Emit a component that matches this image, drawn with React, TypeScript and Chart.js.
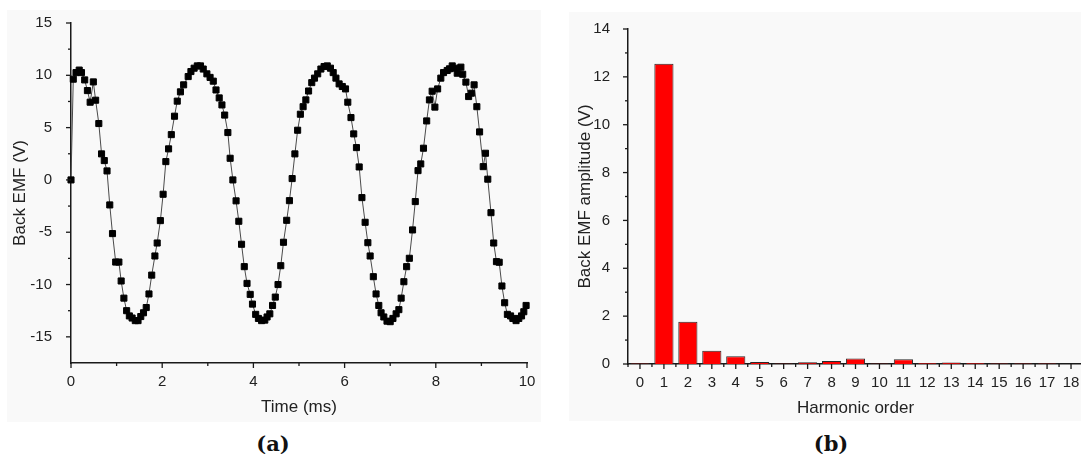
import React, { useEffect, useRef } from 'react';
import { Chart, registerables } from 'chart.js';

Chart.register(...registerables);

// ---------- Data: panel (a) Back EMF waveform ----------
const timeMs = [
  0, 0.05, 0.11, 0.18, 0.23, 0.30, 0.36, 0.42, 0.49, 0.54,
  0.61, 0.67, 0.73, 0.79, 0.85, 0.91, 0.98, 1.05, 1.10, 1.16,
  1.22, 1.28, 1.34, 1.41, 1.47, 1.53, 1.59, 1.65, 1.71, 1.77,
  1.84, 1.89, 1.96, 2.02, 2.08, 2.14, 2.20, 2.27, 2.33, 2.40,
  2.47, 2.57, 2.63, 2.70, 2.77, 2.84, 2.90, 2.98, 3.05, 3.12,
  3.18, 3.25, 3.31, 3.37, 3.44, 3.49, 3.55, 3.62, 3.68, 3.74,
  3.80, 3.86, 3.93, 3.98, 4.05, 4.11, 4.18, 4.25, 4.30, 4.36,
  4.42, 4.48, 4.54, 4.60, 4.66, 4.73, 4.79, 4.85, 4.91, 4.97,
  5.03, 5.09, 5.15, 5.21, 5.28, 5.34, 5.41, 5.48, 5.55, 5.62,
  5.69, 5.75, 5.81, 5.88, 5.95, 6.02, 6.07, 6.14, 6.20, 6.26,
  6.32, 6.38, 6.45, 6.51, 6.56, 6.63, 6.69, 6.75, 6.80, 6.86,
  6.93, 7.00, 7.06, 7.13, 7.19, 7.24, 7.30, 7.36, 7.42, 7.49,
  7.55, 7.61, 7.67, 7.73, 7.80, 7.86, 7.92, 7.98, 8.04, 8.11,
  8.17, 8.25, 8.30, 8.36, 8.41, 8.47, 8.55, 8.59, 8.66, 8.72,
  8.78, 8.84, 8.90, 8.96, 9.04, 9.09, 9.14, 9.21, 9.27, 9.33,
  9.39, 9.45, 9.51, 9.57, 9.64, 9.69, 9.76, 9.82, 9.88, 9.93,
  9.98,
];

const backEmfV = [
  0, 9.63, 10.26, 10.5, 10.26, 9.56, 8.54, 7.43, 9.37, 7.62,
  5.39, 2.49, 1.85, 0.86, -2.39, -5.13, -7.85, -7.85, -9.66, -11.3,
  -12.5, -13.0, -13.2, -13.45, -13.45, -13.06, -12.7, -12.2, -10.9, -9.1,
  -7.27, -6.03, -3.89, -1.37, 1.75, 2.97, 4.33, 6.09, 7.53, 8.42,
  9.09, 9.88, 10.36, 10.68, 10.9, 10.9, 10.6, 10.14, 9.8, 9.44,
  8.6, 7.84, 7.17, 6.2, 4.53, 2.07, 0, -2.0, -3.95, -6.15,
  -8.29, -9.89, -10.94, -11.87, -12.85, -13.24, -13.45, -13.4, -13.1, -12.8,
  -12.0, -11.2, -10.0, -8.2, -5.96, -3.86, -1.98, 0.13, 2.49, 4.75,
  6.28, 7.0, 7.65, 8.5, 9.3, 9.73, 10.14, 10.6, 10.84, 10.9,
  10.68, 10.26, 9.73, 9.18, 8.93, 8.7, 7.43, 5.96, 4.4, 3.09,
  1.24, -1.69, -4.05, -6.0, -7.27, -9.25, -10.9, -12.0, -12.7, -13.1,
  -13.5, -13.55, -13.24, -12.8, -12.4, -11.3, -9.73, -8.29, -7.49, -4.78,
  -2.07, 0.89, 1.53, 3.03, 5.64, 7.65, 8.48, 6.96, 8.7, 9.73,
  10.26, 10.46, 10.62, 10.9, 10.68, 10.2, 10.78, 10.1, 9.35, 7.97,
  8.29, 9.09, 7.0, 4.59, 1.27, 2.55, 0.07, -3.13, -6.03, -7.81,
  -7.87, -10.14, -11.74, -12.85, -13.0, -13.24, -13.45, -13.24, -13.0, -12.6,
  -12.0,
];

// ---------- Data: panel (b) harmonic spectrum ----------
const harmonicOrders = [
  '0', '1', '2', '3', '4', '5', '6', '7', '8', '9',
  '10', '11', '12', '13', '14', '15', '16', '17', '18',
];
const harmonicAmplitudeV = [
  0.03, 12.55, 1.77, 0.55, 0.32, 0.08, 0.02, 0.07, 0.13, 0.23,
  0.02, 0.2, 0.04, 0.06, 0.04, 0.03, 0.03, 0.03, 0.01,
];

// ---------- Axis tick values ----------
const timeMajorTicks = [0, 2, 4, 6, 8, 10];
const timeMinorTicks = [1, 3, 5, 7, 9];
const emfMajorTicks = [-15, -10, -5, 0, 5, 10, 15];
const emfMinorTicks = [-12.5, -7.5, -2.5, 2.5, 7.5, 12.5];
const ampMajorTicks = [0, 2, 4, 6, 8, 10, 12, 14];
const ampMinorTicks = [1, 3, 5, 7, 9, 11, 13];
const orderMajorTicks = harmonicOrders.map((_, i) => i);
const orderMinorTicks = [-0.5, ...harmonicOrders.map((_, i) => i + 0.5)];

const SANS = "'Liberation Sans', Arial, sans-serif";
const AXIS = '#1a1a1a';
const TEXT = '#222222';

type TickSpec = { id: string; major: number[]; minor: number[] };

function tickPlugin(specs: TickSpec[]) {
  return {
    id: 'tickMarks',
    afterDraw(chart: any) {
      const ctx = chart.ctx;
      ctx.save();
      ctx.strokeStyle = AXIS;
      ctx.lineWidth = 1.3;
      for (const spec of specs) {
        const scale = chart.scales[spec.id];
        const draw = (v: number, len: number) => {
          ctx.beginPath();
          if (scale.isHorizontal()) {
            const x = scale.getPixelForValue(v);
            ctx.moveTo(x, scale.top);
            ctx.lineTo(x, scale.top + len);
          } else {
            const y = scale.getPixelForValue(v);
            ctx.moveTo(scale.right, y);
            ctx.lineTo(scale.right - len, y);
          }
          ctx.stroke();
        };
        spec.major.forEach((v) => draw(v, 5));
        spec.minor.forEach((v) => draw(v, 3));
      }
      ctx.restore();
    },
  };
}

function WaveChart() {
  const ref = useRef<HTMLCanvasElement | null>(null);
  useEffect(() => {
    if (!ref.current) return;
    const chart = new Chart(ref.current, {
      type: 'scatter',
      data: {
        datasets: [
          {
            data: timeMs.map((t, i) => ({ x: t, y: backEmfV[i] })),
            showLine: true,
            borderColor: '#4a4a4a',
            borderWidth: 1,
            pointStyle: 'rect',
            pointRadius: 4.3,
            pointBackgroundColor: '#000000',
            pointBorderColor: '#000000',
            pointBorderWidth: 1,
            clip: false,
          } as any,
        ],
      },
      options: {
        animation: false,
        responsive: false,
        devicePixelRatio: 1,
        layout: { padding: { left: 0, right: 14, top: 13, bottom: 0 } },
        plugins: { legend: { display: false }, tooltip: { enabled: false } },
        scales: {
          x: {
            type: 'linear',
            min: 0,
            max: 10,
            grid: { display: false },
            border: { display: true, color: AXIS, width: 1.5 },
            ticks: {
              stepSize: 1,
              autoSkip: false,
              maxRotation: 0,
              padding: 2,
              color: TEXT,
              font: { family: SANS, size: 15 },
              callback: (v: any) => (timeMajorTicks.includes(Number(v)) ? String(v) : ''),
            },
            title: {
              display: true,
              text: 'Time (ms)',
              color: TEXT,
              font: { family: SANS, size: 17 },
              padding: { top: 0, bottom: 4 },
            },
            afterFit: (s: any) => {
              s.height = 59;
              s.paddingLeft = 0;
              s.paddingRight = 0;
            },
          },
          y: {
            type: 'linear',
            min: -17.5,
            max: 15,
            grid: { display: false },
            border: { display: true, color: AXIS, width: 1.5 },
            ticks: {
              stepSize: 2.5,
              autoSkip: false,
              padding: 11,
              color: TEXT,
              font: { family: SANS, size: 15 },
              callback: (v: any) => (emfMajorTicks.includes(Number(v)) ? String(v) : ''),
            },
            title: {
              display: true,
              text: 'Back EMF (V)',
              color: TEXT,
              font: { family: SANS, size: 17 },
              padding: { top: 3, bottom: 0 },
            },
            afterFit: (s: any) => {
              s.width = 64;
              s.paddingTop = 0;
              s.paddingBottom = 0;
            },
          },
        },
      } as any,
      plugins: [
        tickPlugin([
          { id: 'x', major: timeMajorTicks, minor: timeMinorTicks },
          { id: 'y', major: emfMajorTicks, minor: emfMinorTicks },
        ]),
      ],
    });
    return () => chart.destroy();
  }, []);
  return <canvas ref={ref} width={534} height={412} style={{ width: 534, height: 412, display: 'block' }} />;
}

function SpectrumChart() {
  const ref = useRef<HTMLCanvasElement | null>(null);
  useEffect(() => {
    if (!ref.current) return;
    const chart = new Chart(ref.current, {
      type: 'bar',
      data: {
        labels: harmonicOrders,
        datasets: [
          {
            data: harmonicAmplitudeV,
            backgroundColor: '#ff0000',
            borderColor: '#2a2a2a',
            borderWidth: 1,
            barPercentage: 0.8,
            categoryPercentage: 1,
          },
        ],
      },
      options: {
        animation: false,
        responsive: false,
        devicePixelRatio: 1,
        layout: { padding: { left: 0, right: 0, top: 17, bottom: 0 } },
        plugins: { legend: { display: false }, tooltip: { enabled: false } },
        scales: {
          x: {
            type: 'category',
            offset: true,
            grid: { display: false, offset: true },
            border: { display: true, color: AXIS, width: 1.5 },
            ticks: {
              autoSkip: false,
              maxRotation: 0,
              padding: 2,
              color: TEXT,
              font: { family: SANS, size: 15 },
            },
            title: {
              display: true,
              text: 'Harmonic order',
              color: TEXT,
              font: { family: SANS, size: 17 },
              padding: { top: 0, bottom: 2 },
            },
            afterFit: (s: any) => {
              s.height = 57;
              s.paddingLeft = 0;
              s.paddingRight = 0;
            },
          },
          y: {
            type: 'linear',
            min: 0,
            max: 14,
            grid: { display: false },
            border: { display: true, color: AXIS, width: 1.5 },
            ticks: {
              stepSize: 1,
              autoSkip: false,
              padding: 10,
              color: TEXT,
              font: { family: SANS, size: 15 },
              callback: (v: any) => (ampMajorTicks.includes(Number(v)) ? String(v) : ''),
            },
            title: {
              display: true,
              text: 'Back EMF amplitude (V)',
              color: TEXT,
              font: { family: SANS, size: 17 },
              padding: { top: 6, bottom: 0 },
            },
            afterFit: (s: any) => {
              s.width = 59;
              s.paddingTop = 0;
              s.paddingBottom = 0;
            },
          },
        },
      } as any,
      plugins: [
        tickPlugin([
          { id: 'x', major: orderMajorTicks, minor: orderMinorTicks },
          { id: 'y', major: ampMajorTicks, minor: ampMinorTicks },
        ]),
      ],
    });
    return () => chart.destroy();
  }, []);
  return <canvas ref={ref} width={514} height={409} style={{ width: 514, height: 409, display: 'block' }} />;
}

const captionStyle: React.CSSProperties = {
  position: 'absolute',
  width: 100,
  textAlign: 'center',
  fontFamily: "'DejaVu Serif', 'Liberation Serif', serif",
  fontWeight: 'bold',
  fontSize: 21,
  lineHeight: '24px',
  color: '#111',
};

export default function App() {
  return (
    <div
      style={{
        position: 'fixed',
        left: 0,
        top: 0,
        width: 1081,
        height: 454,
        background: '#ffffff',
        overflow: 'hidden',
      }}
    >
      <div
        style={{
          position: 'absolute',
          left: 7,
          top: 10,
          width: 534,
          height: 412,
          background: '#f9f9f9',
          overflow: 'hidden',
        }}
      >
        <WaveChart />
      </div>
      <div
        style={{
          position: 'absolute',
          left: 569,
          top: 12,
          width: 512,
          height: 409,
          background: '#f9f9f9',
          overflow: 'hidden',
        }}
      >
        <SpectrumChart />
      </div>
      <div style={{ ...captionStyle, left: 223, top: 432 }}>(a)</div>
      <div style={{ ...captionStyle, left: 781, top: 432 }}>(b)</div>
    </div>
  );
}
